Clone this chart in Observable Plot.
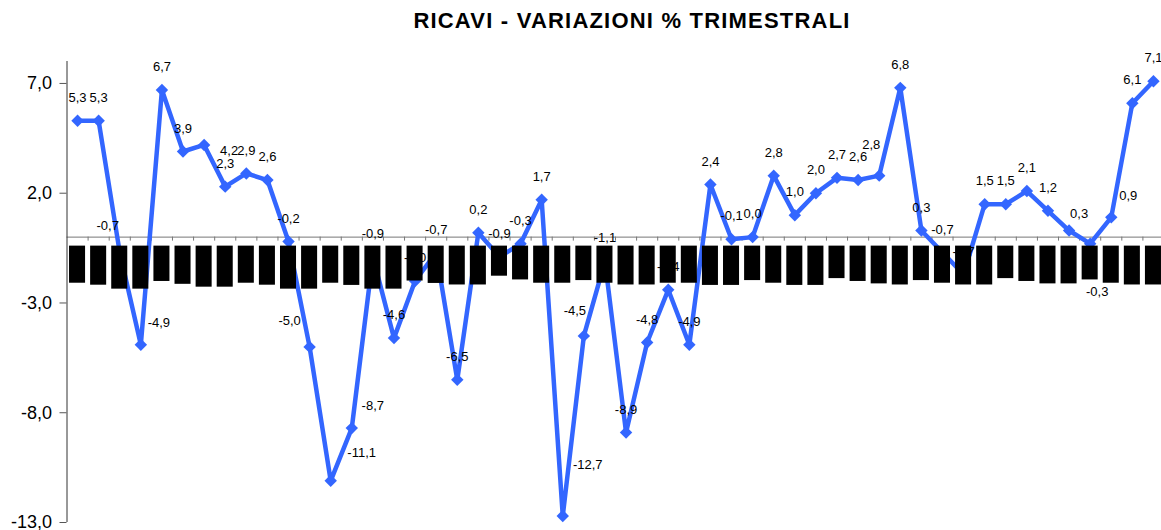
<!DOCTYPE html>
<html>
<head>
<meta charset="utf-8">
<script src="https://cdn.jsdelivr.net/npm/d3@7"></script>
<script src="https://cdn.jsdelivr.net/npm/@observablehq/plot@0.6"></script>
<style>
  html, body { margin: 0; padding: 0; background: #fff; }
  #wrap { position: relative; width: 1161px; height: 530px; overflow: hidden; font-family: "Liberation Sans", Arial, sans-serif; }
  #title { position: absolute; z-index: 2; top: 10px; left: 632px; transform: translateX(-50%); white-space: nowrap;
           font-size: 22px; line-height: 22px; font-weight: bold; letter-spacing: 1.2px; color: #000; }
  #chart { position: absolute; z-index: 1; top: 0; left: 0; }
</style>
</head>
<body>
<div id="wrap">
  <div id="chart"></div>
  <div id="title">RICAVI - VARIAZIONI % TRIMESTRALI</div>
</div>
<script>
// Quarterly revenue change (%), 52 quarters (category labels are blacked out in the original)
const values = [
  5.3, 5.3, -0.7, -4.9, 6.7, 3.9, 4.2, 2.3, 2.9, 2.6,
  -0.2, -5.0, -11.1, -8.7, -0.9, -4.6, -2.0, -0.7, -6.5, 0.2,
  -0.9, -0.3, 1.7, -12.7, -4.5, -1.1, -8.9, -4.8, -2.4, -4.9,
  2.4, -0.1, 0.0, 2.8, 1.0, 2.0, 2.7, 2.6, 2.8, 6.8,
  0.3, -0.7, -1.7, 1.5, 1.5, 2.1, 1.2, 0.3, -0.3, 0.9,
  6.1, 7.1
];
// Depth (in % units below zero) of the black boxes covering the category labels
const labelBoxDepth = [
  2.10, 2.19, 2.37, 2.37, 2.02, 2.15, 2.28, 2.28, 2.10, 2.19,
  2.37, 2.37, 2.10, 2.20, 2.37, 2.37, 2.00, 2.11, 2.18, 2.18,
  1.78, 1.95, 2.10, 2.10, 1.98, 2.10, 2.18, 2.18, 2.10, 2.10,
  2.20, 2.20, 1.98, 2.10, 2.20, 2.20, 1.89, 2.02, 2.13, 2.18,
  1.98, 2.10, 2.18, 2.18, 1.89, 2.02, 2.13, 2.13, 1.95, 2.10,
  2.18, 2.18
];
const labelBoxTop = 0.41;
const yTicks = [7, 2, -3, -8, -13];
const yDomain = [-13, 8];

// Layout / style
const labelNudge = {
  2: [-12, -27], 3: [18, -22], 6: [25, 6], 11: [-20, -26], 12: [31, -27.5],
  13: [21, -22.6], 23: [25, -51], 24: [-9, -25], 38: [-8, -31], 47: [10, -17],
  48: [7, 48], 49: [17, -22]
};
const blue = "#3366FF";
const fmt = d => d.toFixed(1).replace(".", ",");

const idx = values.map((d, i) => i);
const boundaries = values.slice(1).map((d, i) => i + 0.5);
const n = values.length;

const labelMarks = idx.map(i => {
  const [dx, dy] = labelNudge[i] ?? [0, -23];
  return Plot.text([i], {
    x: d => d, y: d => values[d], text: d => fmt(values[d]),
    dx, dy, fontSize: 13, fill: "#000"
  });
});

const chart = Plot.plot({
  width: 1161,
  height: 530,
  marginTop: 61,
  marginBottom: 8,
  marginLeft: 66.5,
  marginRight: 0,
  style: { fontFamily: "'Liberation Sans', Arial, sans-serif", fontSize: "18px", background: "transparent", overflow: "hidden" },
  x: { domain: [-0.5, n - 0.5], range: [66.5, 1163.5], axis: null },
  y: { domain: yDomain, range: [522, 61] },
  marks: [
    Plot.ruleY([0], { x1: -0.5, x2: n - 0.5, stroke: "#777", strokeWidth: 1 }),
    Plot.ruleX(boundaries, { y1: 0, y2: 0, insetBottom: -4, stroke: "#777", strokeWidth: 1 }),
    Plot.line(idx, { x: d => d, y: d => values[d], stroke: blue, strokeWidth: 4.5, strokeLinejoin: "miter" }),
    Plot.dot(idx, { x: d => d, y: d => values[d], symbol: "diamond2", r: 5.6, fill: blue, stroke: null }),
    ...labelMarks,
    Plot.rect(idx, {
      x1: d => d - 0.38, x2: d => d + 0.38,
      y1: -labelBoxTop, y2: d => -labelBoxDepth[d], fill: "#000"
    }),
    Plot.ruleX([-0.5], { y1: yDomain[0], y2: yDomain[1], stroke: "#333", strokeWidth: 1 }),
    Plot.axisY({
      ticks: yTicks, tickFormat: fmt, tickSize: 7, tickPadding: 8,
      fontSize: 18, label: null, stroke: "#555", fill: "#000"
    })
  ]
});
document.getElementById("chart").appendChild(chart);
</script>
</body>
</html>
